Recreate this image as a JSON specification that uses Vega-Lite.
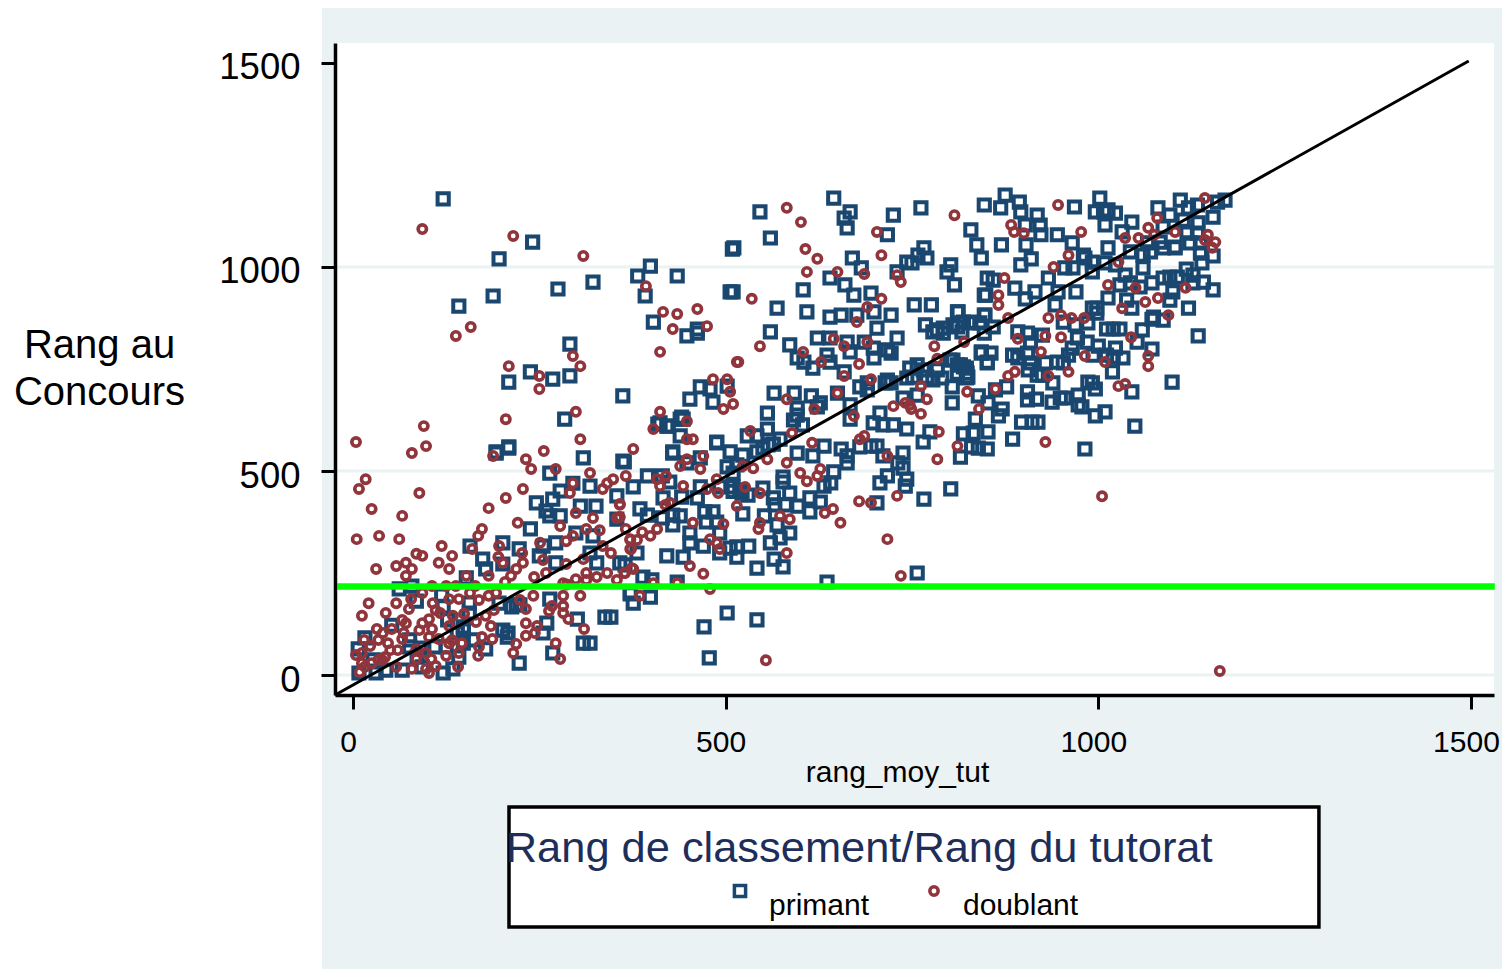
{"$schema":"https://vega.github.io/schema/vega-lite/v6.json","width":1159,"height":652,"autosize":{"type":"none"},"padding":{"left":335,"top":43,"right":8,"bottom":274},"background":"white","view":{"stroke":null},
"config":{"font":"Liberation Sans","legend":{"symbolStrokeWidth":3}},
"datasets":{
"panel":[{"x":-41.6,"x2":1541.6,"y":-720.6,"y2":1634.8}],
"plot":[{"x":-24.15,"x2":1530.9,"y":-49,"y2":1549}],
"grid":[{"x":-24.15,"x2":1530.9,"y":0},{"x":-24.15,"x2":1530.9,"y":500},{"x":-24.15,"x2":1530.9,"y":1000}],
"seuil":[{"x":-21,"x2":1532,"y":217}],
"diag":[{"x":-24,"y":-49,"x2":1497,"y2":1505}],
"boite":[{"x":209.3,"x2":1296,"y":-617.6,"y2":-323.5}],
"titre":[{"x":205,"y":-458,"t":"Rang de classement/Rang du tutorat"}],
"primant":[
{"x":121,"y":1167},{"x":241,"y":1061},{"x":196,"y":1020},{"x":188,"y":929},{"x":142,"y":904},{"x":275,"y":946},{"x":322,"y":963},{"x":382,"y":978},{"x":399,"y":1002},{"x":435,"y":978},{"x":392,"y":929},{"x":403,"y":865},{"x":448,"y":831},{"x":462,"y":848},{"x":462,"y":838},{"x":506,"y":939},{"x":509,"y":1044},{"x":291,"y":811},{"x":238,"y":743},{"x":209,"y":718},{"x":268,"y":725},{"x":291,"y":733},{"x":362,"y":684},{"x":284,"y":627},{"x":466,"y":706},{"x":479,"y":701},{"x":502,"y":708},{"x":452,"y":676},{"x":483,"y":669},{"x":443,"y":627},{"x":439,"y":627},{"x":409,"y":615},{"x":421,"y":610},{"x":439,"y":586},{"x":488,"y":571},{"x":429,"y":547},{"x":209,"y":559},{"x":192,"y":547},
{"x":192,"y":544},{"x":209,"y":556},{"x":309,"y":532},{"x":362,"y":524},{"x":264,"y":495},{"x":295,"y":470},{"x":278,"y":451},{"x":318,"y":463},{"x":268,"y":431},{"x":246,"y":422},{"x":305,"y":414},{"x":326,"y":414},{"x":259,"y":402},{"x":264,"y":390},{"x":278,"y":390},{"x":354,"y":439},{"x":354,"y":382},{"x":238,"y":358},{"x":299,"y":348},{"x":322,"y":341},{"x":157,"y":316},{"x":201,"y":324},{"x":223,"y":309},{"x":272,"y":324},{"x":255,"y":316},{"x":250,"y":292},{"x":174,"y":284},{"x":178,"y":260},{"x":201,"y":272},{"x":272,"y":275},{"x":318,"y":299},{"x":327,"y":275},{"x":358,"y":275},{"x":152,"y":238},{"x":79,"y":218},{"x":62,"y":211},{"x":119,"y":196},{"x":85,"y":181},{"x":121,"y":167},{"x":156,"y":176},{"x":196,"y":176},{"x":156,"y":152},{"x":219,"y":172},{"x":264,"y":186},{"x":338,"y":142},{"x":346,"y":142},{"x":372,"y":201},{"x":376,"y":176},{"x":260,"y":127},{"x":301,"y":137},{"x":255,"y":103},{"x":201,"y":110},{"x":208,"y":103},{"x":207,"y":93},{"x":309,"y":78},{"x":318,"y":78},{"x":268,"y":54},{"x":223,"y":29},{"x":178,"y":64},{"x":161,"y":86},{"x":148,"y":118},{"x":125,"y":69},{"x":142,"y":44},{"x":121,"y":5},{"x":134,"y":15},{"x":66,"y":12},{"x":31,"y":5},{"x":8,"y":5},{"x":44,"y":12},{"x":76,"y":86},{"x":76,"y":69},{"x":52,"y":122},{"x":16,"y":91},{"x":7,"y":64},{"x":27,"y":37},{"x":90,"y":66},{"x":110,"y":69},{"x":127,"y":135},{"x":148,"y":78},{"x":140,"y":103},{"x":148,"y":110},{"x":86,"y":44},{"x":93,"y":20},{"x":224,"y":172},{"x":213,"y":167},
{"x":471,"y":118},{"x":502,"y":152},{"x":542,"y":135},{"x":478,"y":42},{"x":636,"y":228},{"x":757,"y":250},
{"x":565,"y":691},{"x":592,"y":691},{"x":615,"y":684},{"x":627,"y":667},{"x":623,"y":657},{"x":596,"y":654},{"x":596,"y":637},{"x":556,"y":642},{"x":591,"y":625},{"x":603,"y":613},{"x":556,"y":603},{"x":529,"y":586},{"x":542,"y":586},{"x":573,"y":578},{"x":557,"y":564},{"x":550,"y":556},{"x":564,"y":566},{"x":596,"y":544},{"x":617,"y":537},{"x":632,"y":561},{"x":655,"y":554},{"x":663,"y":537},{"x":663,"y":520},{"x":680,"y":559},{"x":695,"y":561},{"x":714,"y":716},{"x":722,"y":716},{"x":667,"y":662},{"x":680,"y":706},{"x":690,"y":699},{"x":650,"y":691},{"x":707,"y":642},{"x":698,"y":618},{"x":711,"y":613},{"x":725,"y":613},{"x":667,"y":627},{"x":743,"y":603},{"x":765,"y":571},{"x":774,"y":596},{"x":778,"y":723},{"x":770,"y":730},{"x":751,"y":730},{"x":738,"y":679},{"x":757,"y":686},{"x":703,"y":561},{"x":711,"y":537},{"x":738,"y":544},{"x":731,"y":520},{"x":738,"y":507},{"x":717,"y":488},{"x":707,"y":471},{"x":743,"y":480},{"x":741,"y":463},{"x":766,"y":431},{"x":703,"y":422},{"x":645,"y":498},{"x":632,"y":463},{"x":641,"y":471},{"x":627,"y":424},{"x":613,"y":434},{"x":613,"y":400},{"x":597,"y":414},{"x":580,"y":417},{"x":566,"y":417},{"x":577,"y":485},{"x":577,"y":473},{"x":586,"y":446},{"x":552,"y":390},{"x":523,"y":395},{"x":522,"y":446},{"x":530,"y":441},{"x":550,"y":458},{"x":564,"y":434},{"x":586,"y":348},{"x":573,"y":336},{"x":560,"y":324},{"x":569,"y":368},{"x":531,"y":316},{"x":515,"y":289},{"x":515,"y":314},{"x":492,"y":299},{"x":506,"y":311},{"x":470,"y":316},{"x":452,"y":348},{"x":452,"y":324},{"x":492,"y":348},{"x":474,"y":375},{"x":483,"y":400},{"x":472,"y":400},{"x":488,"y":375},{"x":429,"y":368},{"x":421,"y":292},{"x":443,"y":289},{"x":542,"y":262},{"x":565,"y":284},{"x":577,"y":265},{"x":389,"y":240},{"x":401,"y":233},{"x":435,"y":228},{"x":372,"y":199},{"x":399,"y":191},{"x":365,"y":270},{"x":381,"y":299},{"x":364,"y":522},{"x":376,"y":461},{"x":395,"y":488},{"x":415,"y":488},{"x":425,"y":473},{"x":416,"y":434},{"x":441,"y":436},{"x":462,"y":434},{"x":385,"y":407},{"x":395,"y":392},{"x":415,"y":385},{"x":429,"y":392},{"x":439,"y":390},{"x":429,"y":544},{"x":448,"y":520},{"x":466,"y":532},{"x":488,"y":569},{"x":506,"y":547},{"x":523,"y":539},{"x":542,"y":547},{"x":502,"y":510},{"x":515,"y":515},{"x":510,"y":495},{"x":466,"y":461},{"x":519,"y":453},{"x":492,"y":461},{"x":510,"y":461},{"x":510,"y":450},{"x":412,"y":618},{"x":423,"y":610},{"x":441,"y":632},
{"x":546,"y":1135},{"x":560,"y":1071},{"x":645,"y":1169},{"x":667,"y":1135},{"x":659,"y":1120},{"x":663,"y":1096},{"x":725,"y":1127},{"x":762,"y":1145},{"x":847,"y":1152},{"x":829,"y":1091},{"x":837,"y":1054},{"x":843,"y":1022},{"x":717,"y":1079},{"x":511,"y":1047},{"x":670,"y":1022},{"x":682,"y":998},{"x":640,"y":973},{"x":660,"y":956},{"x":672,"y":931},{"x":695,"y":936},{"x":604,"y":944},{"x":730,"y":988},{"x":750,"y":1010},{"x":758,"y":1029},{"x":766,"y":1047},{"x":770,"y":1022},{"x":743,"y":1012},{"x":802,"y":1005},{"x":797,"y":988},{"x":807,"y":956},{"x":851,"y":973},{"x":847,"y":931},{"x":753,"y":907},{"x":776,"y":907},{"x":811,"y":890},{"x":847,"y":882},{"x":510,"y":939},{"x":569,"y":899},{"x":609,"y":890},{"x":640,"y":877},{"x":655,"y":882},{"x":676,"y":882},{"x":699,"y":890},{"x":722,"y":882},{"x":703,"y":850},{"x":560,"y":841},{"x":623,"y":826},{"x":640,"y":826},{"x":663,"y":816},{"x":686,"y":816},{"x":730,"y":826},{"x":586,"y":809},{"x":636,"y":784},{"x":667,"y":792},{"x":698,"y":801},{"x":717,"y":797},{"x":722,"y":789},{"x":596,"y":777},{"x":605,"y":767},{"x":617,"y":752},{"x":640,"y":767},{"x":699,"y":777},{"x":768,"y":858},{"x":784,"y":846},{"x":792,"y":850},{"x":792,"y":838},{"x":778,"y":841},{"x":805,"y":858},{"x":819,"y":865},{"x":829,"y":865},{"x":817,"y":841},{"x":847,"y":838},{"x":843,"y":792},{"x":811,"y":760},{"x":851,"y":767},{"x":801,"y":772},{"x":747,"y":752},{"x":757,"y":760},{"x":765,"y":748},{"x":784,"y":748},{"x":819,"y":755},{"x":824,"y":740},{"x":825,"y":730},{"x":743,"y":728},{"x":790,"y":728},{"x":659,"y":743},{"x":690,"y":716},{"x":717,"y":723},
{"x":869,"y":1145},{"x":875,"y":1176},{"x":894,"y":1159},{"x":896,"y":1135},{"x":918,"y":1127},{"x":902,"y":1103},{"x":922,"y":1103},{"x":923,"y":1079},{"x":870,"y":1054},{"x":903,"y":1054},{"x":910,"y":1020},{"x":896,"y":1005},{"x":945,"y":1079},{"x":968,"y":1147},{"x":965,"y":1059},{"x":1002,"y":1169},{"x":996,"y":1135},{"x":1007,"y":1135},{"x":1023,"y":1132},{"x":1013,"y":1140},{"x":1009,"y":1103},{"x":1045,"y":1110},{"x":1032,"y":1086},{"x":1013,"y":1047},{"x":980,"y":1029},{"x":982,"y":1022},{"x":992,"y":1012},{"x":1009,"y":1010},{"x":966,"y":998},{"x":955,"y":998},{"x":933,"y":973},{"x":992,"y":988},{"x":1023,"y":1005},{"x":1060,"y":998},{"x":1060,"y":1029},{"x":1043,"y":1037},{"x":1070,"y":1037},{"x":1087,"y":1047},{"x":1103,"y":1047},{"x":1080,"y":1145},{"x":1110,"y":1164},{"x":1121,"y":1145},{"x":1133,"y":1152},{"x":1160,"y":1159},{"x":1170,"y":1164},{"x":1096,"y":1127},{"x":1087,"y":1098},{"x":1114,"y":1115},{"x":1134,"y":1108},{"x":1154,"y":1122},{"x":1066,"y":1059},{"x":1083,"y":1061},{"x":1103,"y":1049},{"x":1123,"y":1059},{"x":1137,"y":1059},{"x":1119,"y":1083},{"x":1133,"y":1083},{"x":1154,"y":1027},{"x":1137,"y":1034},{"x":1139,"y":1010},{"x":1118,"y":995},{"x":1127,"y":980},{"x":1141,"y":963},{"x":1154,"y":944},{"x":1121,"y":899},{"x":1100,"y":939},{"x":1096,"y":975},{"x":1087,"y":973},{"x":1106,"y":975},{"x":1127,"y":961},{"x":1072,"y":961},{"x":1036,"y":980},{"x":1029,"y":956},{"x":1043,"y":961},{"x":1056,"y":951},{"x":1013,"y":924},{"x":1038,"y":919},{"x":1045,"y":899},{"x":998,"y":899},{"x":992,"y":899},{"x":1096,"y":919},{"x":1074,"y":877},{"x":970,"y":939},{"x":946,"y":939},{"x":915,"y":939},{"x":942,"y":907},{"x":902,"y":922},{"x":888,"y":948},{"x":859,"y":968},{"x":849,"y":931},{"x":812,"y":890},{"x":848,"y":882},
{"x":1134,"y":831},{"x":1099,"y":718},{"x":1049,"y":610},{"x":982,"y":554},{"x":885,"y":578},{"x":1045,"y":694},{"x":1019,"y":743},{"x":996,"y":635},{"x":1009,"y":645},{"x":1072,"y":799},{"x":1059,"y":846},{"x":1072,"y":872},{"x":1087,"y":870},{"x":1052,"y":816},{"x":1020,"y":848},{"x":1029,"y":848},{"x":1011,"y":848},{"x":1023,"y":801},{"x":1011,"y":784},{"x":1033,"y":777},{"x":1020,"y":779},{"x":993,"y":784},{"x":1000,"y":806},{"x":985,"y":816},{"x":972,"y":826},{"x":965,"y":801},{"x":960,"y":784},{"x":953,"y":765},{"x":945,"y":767},{"x":992,"y":716},{"x":986,"y":718},{"x":996,"y":701},{"x":973,"y":686},{"x":978,"y":657},{"x":973,"y":662},{"x":955,"y":679},{"x":949,"y":679},{"x":938,"y":669},{"x":939,"y":716},{"x":929,"y":765},{"x":918,"y":735},{"x":905,"y":694},{"x":905,"y":674},{"x":917,"y":676},{"x":897,"y":620},{"x":911,"y":620},{"x":919,"y":620},{"x":871,"y":652},{"x":866,"y":635},{"x":852,"y":667},{"x":839,"y":684},{"x":835,"y":627},{"x":852,"y":596},{"x":832,"y":593},{"x":819,"y":591},{"x":830,"y":559},{"x":851,"y":554},{"x":839,"y":556},{"x":815,"y":534},{"x":877,"y":706},{"x":862,"y":699},{"x":823,"y":752},{"x":823,"y":728},{"x":815,"y":760},{"x":805,"y":772},{"x":843,"y":789},{"x":856,"y":789},{"x":851,"y":765},{"x":892,"y":841},{"x":905,"y":838},{"x":909,"y":814},{"x":905,"y":789},{"x":892,"y":777},{"x":909,"y":765},{"x":906,"y":748},{"x":925,"y":735},{"x":925,"y":833},{"x":828,"y":863},{"x":841,"y":863},{"x":859,"y":853},{"x":811,"y":853},{"x":885,"y":784},{"x":986,"y":863},{"x":969,"y":858},{"x":953,"y":865},{"x":998,"y":887},{"x":804,"y":706},{"x":804,"y":667},{"x":811,"y":740},{"x":802,"y":456}
],
"doublant":[
{"x":93,"y":1093},{"x":215,"y":1076},{"x":309,"y":1027},{"x":393,"y":953},{"x":416,"y":890},{"x":435,"y":885},{"x":462,"y":897},{"x":475,"y":855},{"x":429,"y":848},{"x":412,"y":792},{"x":138,"y":831},{"x":158,"y":853},{"x":209,"y":757},{"x":295,"y":782},{"x":305,"y":757},{"x":250,"y":733},{"x":250,"y":701},{"x":299,"y":645},{"x":205,"y":627},{"x":305,"y":578},{"x":95,"y":610},{"x":98,"y":561},{"x":4,"y":571},{"x":483,"y":725},{"x":502,"y":725},{"x":506,"y":694},{"x":497,"y":652},{"x":412,"y":645},{"x":403,"y":603},{"x":448,"y":622},{"x":448,"y":578},{"x":456,"y":578},{"x":515,"y":767},
{"x":79,"y":544},{"x":17,"y":480},{"x":8,"y":456},{"x":89,"y":446},{"x":25,"y":407},{"x":66,"y":390},{"x":5,"y":333},{"x":35,"y":341},{"x":62,"y":333},{"x":119,"y":316},{"x":85,"y":297},{"x":93,"y":292},{"x":133,"y":292},{"x":31,"y":260},{"x":58,"y":267},{"x":71,"y":275},{"x":79,"y":260},{"x":71,"y":243},{"x":115,"y":275},{"x":129,"y":260},{"x":152,"y":243},{"x":173,"y":358},{"x":168,"y":341},{"x":160,"y":309},{"x":196,"y":316},{"x":195,"y":289},{"x":201,"y":275},{"x":182,"y":243},{"x":212,"y":243},{"x":204,"y":228},{"x":188,"y":537},{"x":232,"y":529},{"x":256,"y":549},{"x":239,"y":505},{"x":272,"y":505},{"x":205,"y":434},{"x":182,"y":409},{"x":228,"y":456},{"x":221,"y":373},{"x":291,"y":446},{"x":295,"y":470},{"x":318,"y":495},{"x":335,"y":456},{"x":341,"y":470},{"x":349,"y":480},{"x":366,"y":488},{"x":358,"y":419},{"x":299,"y":397},{"x":322,"y":385},{"x":354,"y":385},{"x":278,"y":365},{"x":313,"y":358},{"x":331,"y":355},{"x":295,"y":341},{"x":251,"y":324},{"x":286,"y":328},{"x":372,"y":333},{"x":372,"y":309},{"x":335,"y":316},{"x":346,"y":299},{"x":227,"y":299},{"x":228,"y":275},{"x":219,"y":260},{"x":255,"y":282},{"x":286,"y":272},{"x":309,"y":284},{"x":259,"y":250},{"x":243,"y":240},{"x":299,"y":235},{"x":313,"y":250},{"x":313,"y":233},{"x":327,"y":240},{"x":341,"y":250},{"x":354,"y":233},{"x":364,"y":250},{"x":282,"y":225},{"x":374,"y":262},{"x":305,"y":194},{"x":282,"y":194},{"x":242,"y":194},{"x":224,"y":184},{"x":282,"y":169},{"x":267,"y":169},{"x":263,"y":157},{"x":282,"y":152},{"x":232,"y":162},{"x":289,"y":137},{"x":182,"y":194},{"x":192,"y":201},{"x":169,"y":184},{"x":157,"y":201},{"x":129,"y":186},{"x":142,"y":186},{"x":107,"y":176},{"x":93,"y":201},{"x":78,"y":186},{"x":58,"y":176},{"x":21,"y":176},{"x":44,"y":152},{"x":12,"y":145},{"x":75,"y":162},{"x":111,"y":159},{"x":117,"y":152},{"x":134,"y":145},{"x":149,"y":150},{"x":178,"y":145},{"x":165,"y":130},{"x":189,"y":159},{"x":232,"y":127},{"x":247,"y":120},{"x":185,"y":120},{"x":244,"y":103},{"x":232,"y":96},{"x":310,"y":113},{"x":272,"y":78},{"x":219,"y":76},{"x":215,"y":54},{"x":278,"y":39},{"x":187,"y":88},{"x":173,"y":93},{"x":169,"y":69},{"x":168,"y":47},{"x":146,"y":78},{"x":142,"y":54},{"x":125,"y":47},{"x":141,"y":20},{"x":129,"y":78},{"x":133,"y":85},{"x":115,"y":88},{"x":102,"y":137},{"x":93,"y":127},{"x":106,"y":113},{"x":89,"y":110},{"x":102,"y":93},{"x":129,"y":120},{"x":66,"y":135},{"x":71,"y":127},{"x":32,"y":113},{"x":52,"y":113},{"x":68,"y":103},{"x":66,"y":88},{"x":40,"y":103},{"x":15,"y":86},{"x":23,"y":71},{"x":34,"y":86},{"x":47,"y":78},{"x":60,"y":61},{"x":50,"y":61},{"x":43,"y":44},{"x":34,"y":37},{"x":4,"y":49},{"x":12,"y":54},{"x":12,"y":29},{"x":16,"y":20},{"x":9,"y":7},{"x":25,"y":29},{"x":58,"y":20},{"x":39,"y":37},{"x":85,"y":64},{"x":85,"y":39},{"x":98,"y":54},{"x":105,"y":39},{"x":98,"y":15},{"x":111,"y":22},{"x":102,"y":5},{"x":79,"y":15},{"x":106,"y":218},{"x":125,"y":218},{"x":138,"y":218},{"x":164,"y":218},{"x":287,"y":222},
{"x":554,"y":36},{"x":1163,"y":10},{"x":1005,"y":438},
{"x":510,"y":664},{"x":376,"y":554},{"x":448,"y":529},{"x":470,"y":537},{"x":439,"y":512},{"x":466,"y":505},{"x":408,"y":480},{"x":420,"y":488},{"x":412,"y":463},{"x":443,"y":463},{"x":488,"y":480},{"x":475,"y":456},{"x":490,"y":446},{"x":425,"y":422},{"x":419,"y":417},{"x":515,"y":414},{"x":526,"y":461},{"x":523,"y":512},{"x":537,"y":507},{"x":546,"y":446},{"x":556,"y":529},{"x":582,"y":520},{"x":600,"y":495},{"x":627,"y":505},{"x":623,"y":488},{"x":609,"y":475},{"x":533,"y":598},{"x":589,"y":593},{"x":616,"y":569},{"x":582,"y":676},{"x":619,"y":652},{"x":650,"y":691},{"x":659,"y":733},{"x":695,"y":725},{"x":762,"y":708},{"x":770,"y":676},{"x":741,"y":667},{"x":747,"y":662},{"x":749,"y":652},{"x":725,"y":659},{"x":672,"y":635},{"x":762,"y":640},{"x":686,"y":586},{"x":680,"y":578},{"x":717,"y":537},{"x":784,"y":529},{"x":786,"y":596},{"x":679,"y":426},{"x":695,"y":422},{"x":730,"y":439},{"x":717,"y":333},{"x":735,"y":243},{"x":644,"y":407},{"x":633,"y":397},{"x":654,"y":373},{"x":573,"y":390},{"x":586,"y":382},{"x":546,"y":373},{"x":544,"y":358},{"x":497,"y":370},{"x":456,"y":373},{"x":479,"y":333},{"x":488,"y":324},{"x":492,"y":309},{"x":582,"y":299},{"x":452,"y":267},{"x":470,"y":248},{"x":403,"y":225},{"x":435,"y":225},{"x":479,"y":211},{"x":385,"y":194},{"x":365,"y":250},{"x":376,"y":260},{"x":373,"y":309},{"x":372,"y":331},{"x":381,"y":331},{"x":388,"y":350},{"x":399,"y":341},{"x":408,"y":358},{"x":366,"y":358},{"x":358,"y":417},{"x":358,"y":387},
{"x":582,"y":1145},{"x":601,"y":1110},{"x":703,"y":1086},{"x":807,"y":1127},{"x":709,"y":1029},{"x":607,"y":1044},{"x":623,"y":1020},{"x":609,"y":988},{"x":650,"y":988},{"x":686,"y":983},{"x":730,"y":980},{"x":735,"y":963},{"x":535,"y":922},{"x":709,"y":922},{"x":690,"y":902},{"x":676,"y":865},{"x":546,"y":806},{"x":604,"y":792},{"x":517,"y":767},{"x":628,"y":767},{"x":645,"y":824},{"x":659,"y":806},{"x":690,"y":816},{"x":679,"y":762},{"x":780,"y":806},{"x":820,"y":816},{"x":784,"y":775},
{"x":946,"y":1152},{"x":1143,"y":1169},{"x":883,"y":1103},{"x":887,"y":1086},{"x":900,"y":1083},{"x":977,"y":1086},{"x":1079,"y":1120},{"x":1067,"y":1096},{"x":1036,"y":1071},{"x":1054,"y":1071},{"x":1075,"y":1079},{"x":1103,"y":1086},{"x":1147,"y":1079},{"x":1143,"y":1066},{"x":1157,"y":1061},{"x":1153,"y":1047},{"x":960,"y":1029},{"x":1027,"y":1012},{"x":940,"y":1000},{"x":874,"y":973},{"x":866,"y":931},{"x":866,"y":907},{"x":1013,"y":956},{"x":1050,"y":949},{"x":1117,"y":949},{"x":1080,"y":924},{"x":1063,"y":914},{"x":1032,"y":899},{"x":1094,"y":882},{"x":933,"y":875},{"x":950,"y":882},{"x":964,"y":875},{"x":981,"y":875},{"x":879,"y":875},
{"x":892,"y":824},{"x":929,"y":831},{"x":950,"y":828},{"x":923,"y":792},{"x":982,"y":782},{"x":1009,"y":767},{"x":1044,"y":828},{"x":1067,"y":782},{"x":1067,"y":757},{"x":960,"y":743},{"x":933,"y":733},{"x":888,"y":743},{"x":879,"y":733},{"x":862,"y":701},{"x":824,"y":694},{"x":840,"y":652},{"x":929,"y":571},{"x":1027,"y":708},{"x":1036,"y":713},{"x":811,"y":561}
]},
"encoding":{
"x":{"field":"x","type":"quantitative","scale":{"domain":[-24.15,1530.9],"nice":false,"zero":false},"axis":{"zindex":1,"format":"d","values":[0,500,1000,1500],"grid":false,"domainColor":"black","domainWidth":3.5,"tickColor":"black","tickWidth":3,"tickSize":14,"labelFontSize":30,"labelColor":"black","labelPadding":18,"labelOffset":-5,"labelFlush":false,"labelOverlap":false,"labelBound":false,"title":"rang_moy_tut","titleFontSize":30,"titleFontWeight":"normal","titleColor":"black","titleX":562,"titleY":86,"titleBaseline":"alphabetic","titleAnchor":null,"titleAlign":"center"}},
"y":{"field":"y","type":"quantitative","scale":{"domain":[-49,1549],"nice":false,"zero":false},"axis":{"zindex":1,"format":"d","values":[0,500,1000,1500],"grid":false,"domainColor":"black","domainWidth":3.5,"tickColor":"black","tickWidth":3,"tickSize":14,"labelFontSize":36.5,"labelColor":"black","labelPadding":21,"labelOffset":5,"labelOverlap":false,"labelFlush":false,"title":["Rang au","Concours"],"titleFontSize":40,"titleFontWeight":"normal","titleColor":"black","titleAngle":0,"titleAlign":"center","titleBaseline":"alphabetic","titleX":-236,"titleY":314,"titleLineHeight":47}}
},
"layer":[
{"data":{"name":"panel"},"mark":{"type":"rect","fill":"#eaf2f3"},"encoding":{"x2":{"field":"x2"},"y2":{"field":"y2"}}},
{"data":{"name":"plot"},"mark":{"type":"rect","fill":"white"},"encoding":{"x2":{"field":"x2"},"y2":{"field":"y2"}}},
{"data":{"name":"grid"},"mark":{"type":"rule","stroke":"#eaf2f3","strokeWidth":3},"encoding":{"x2":{"field":"x2"}}},
{"data":{"name":"primant"},"mark":{"type":"point","filled":false,"strokeWidth":4,"opacity":1},"encoding":{
"color":{"datum":"primant","scale":{"domain":["primant","doublant"],"range":["#1a476f","#90353b"]},"legend":{"title":null,"orient":"none","legendX":390,"legendY":833,"direction":"horizontal","columns":2,"labelFontSize":30,"labelColor":"black","labelBaseline":"top","labelOffset":14,"columnPadding":49,"symbolStrokeWidth":3.5,"padding":0}},
"shape":{"datum":"primant","scale":{"domain":["primant","doublant"],"range":["square","circle"]},"legend":null},
"size":{"datum":"primant","scale":{"domain":["primant","doublant"],"range":[125,70]},"legend":null}}},
{"data":{"name":"doublant"},"mark":{"type":"point","filled":false,"strokeWidth":3.6,"opacity":1},"encoding":{
"color":{"datum":"doublant"},"shape":{"datum":"doublant"},"size":{"datum":"doublant"}}},
{"data":{"name":"diag"},"mark":{"type":"rule","stroke":"black","strokeWidth":3},"encoding":{"x2":{"field":"x2"},"y2":{"field":"y2"}}},
{"data":{"name":"seuil"},"mark":{"type":"rule","stroke":"#00ff00","strokeWidth":6.5},"encoding":{"x2":{"field":"x2"}}},
{"data":{"name":"boite"},"mark":{"type":"rect","fill":"white","stroke":"black","strokeWidth":3.5},"encoding":{"x2":{"field":"x2"},"y2":{"field":"y2"}}},
{"data":{"name":"titre"},"mark":{"type":"text","align":"left","baseline":"alphabetic","fontSize":43.4,"color":"#1e2e5a"},"encoding":{"text":{"field":"t"}}}
]}
